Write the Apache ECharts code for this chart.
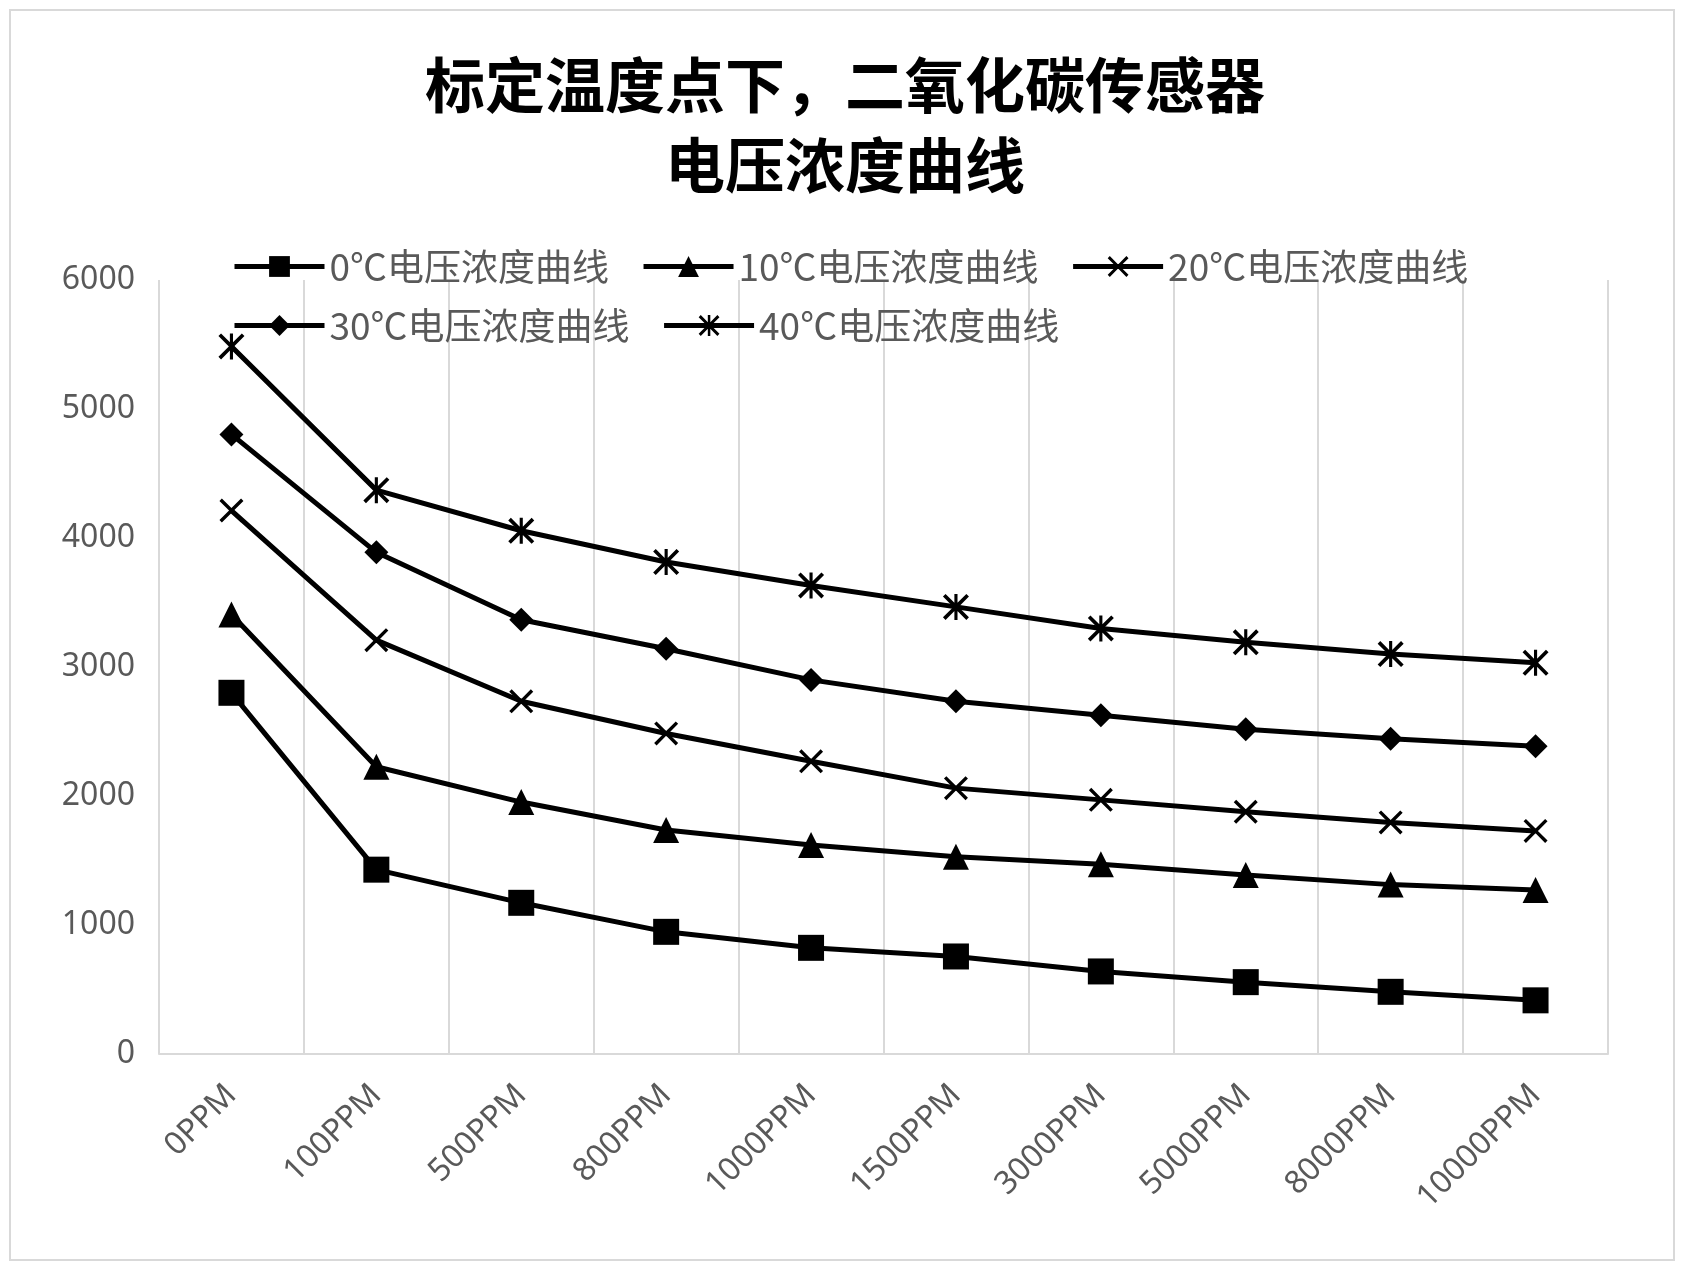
<!DOCTYPE html><html><head><meta charset="utf-8"><script src="https://cdn.jsdelivr.net/npm/echarts@6/dist/echarts.min.js"></script>
<style>html,body{margin:0;background:#fff}#c{width:1682px;height:1265px}#f{position:absolute;left:9px;top:9px;width:1662px;height:1248px;border:2px solid #d9d9d9}</style></head><body><div id="f"></div><div id="c" style="position:absolute;left:0;top:0"></div><script>
const categories=['0PPM','100PPM','500PPM','800PPM','1000PPM','1500PPM','3000PPM','5000PPM','8000PPM','10000PPM'];
const names=['0℃电压浓度曲线','10℃电压浓度曲线','20℃电压浓度曲线','30℃电压浓度曲线','40℃电压浓度曲线'];
const s0=[2800,1429,1172,947,823,756,640,557,482,416];
const s10=[3407,2227,1953,1737,1620,1529,1471,1388,1313,1271];
const s20=[4213,3208,2734,2485,2269,2061,1970,1878,1795,1729];
const s30=[4803,3889,3366,3141,2900,2734,2626,2518,2443,2385];
const s40=[5485,4371,4056,3814,3632,3466,3299,3191,3100,3033];
const X='path://M1,0L5,4L9,0L10,1L6,5L10,9L9,10L5,6L1,10L0,9L4,5L0,1Z';
const A='path://M1,0L5,4L9,0L10,1L6,5L10,9L9,10L5,6L1,10L0,9L4,5L0,1ZM4.4,0L5.6,0L5.6,10L4.4,10Z';
const syms=[['rect',26],['triangle',26],[X,24],['diamond',24],[A,26]];
const data=[s0,s10,s20,s30,s40];
const lg={padding:0,itemWidth:90,itemHeight:26,itemGap:32,lineStyle:{width:5},textStyle:{fontSize:37,color:'#595959',fontFamily:'Noto Sans CJK SC'}};
const ch=echarts.init(document.getElementById('c'));
ch.setOption({
title:{text:'标定温度点下，二氧化碳传感器\n电压浓度曲线',left:840,textAlign:'center',top:40,textStyle:{fontFamily:'Noto Sans CJK SC',fontWeight:'bold',fontSize:60,lineHeight:80,color:'#000'}},
legend:[Object.assign({left:232,top:248,data:names.slice(0,3)},lg),Object.assign({left:232,top:307,data:names.slice(3)},lg)],
grid:{left:159,right:74,top:280,bottom:211},
xAxis:{type:'category',data:categories,boundaryGap:true,axisTick:{show:false},axisLine:{lineStyle:{color:'#d9d9d9',width:2}},splitLine:{show:true,interval:0,lineStyle:{color:'#d9d9d9',width:2}},axisLabel:{rotate:45,interval:0,fontSize:32,color:'#595959',margin:36,fontFamily:'Noto Sans'}},
yAxis:{type:'value',min:0,max:6000,interval:1000,splitLine:{show:false},axisLine:{show:false},axisTick:{show:false},axisLabel:{fontSize:32,color:'#595959',margin:24,fontFamily:'Noto Sans',formatter:v=>String(v)}},
series:data.map((d,i)=>({name:names[i],type:'line',data:d,symbol:syms[i][0],symbolSize:syms[i][1],lineStyle:{color:'#000',width:5},itemStyle:{color:'#000'},animation:false}))
});
</script></body></html>
